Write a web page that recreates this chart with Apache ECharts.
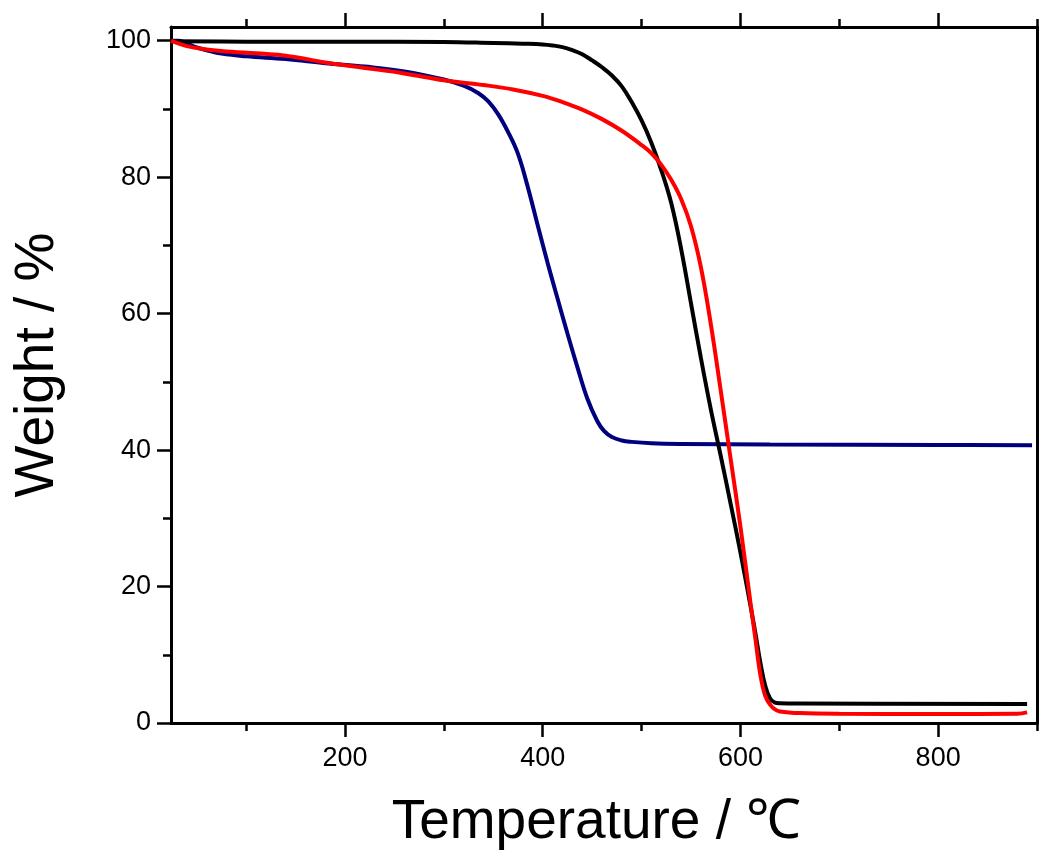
<!DOCTYPE html>
<html>
<head>
<meta charset="utf-8">
<script src="https://cdn.jsdelivr.net/npm/echarts@6/dist/echarts.min.js"></script>
<style>
html,body{margin:0;padding:0;background:#fff;}
#chart{width:1050px;height:852px;}
</style>
</head>
<body>
<div id="chart"></div>
<script>
// ---- data ----
const blackSeries = [
  [24, 99.9], [100, 99.85], [200, 99.85], [300, 99.8], [350, 99.65], [380, 99.55], [400, 99.45],
  [410, 99.3], [420, 99.05], [430, 98.6], [440, 98.0], [450, 97.1], [460, 96.1], [470, 94.9],
  [480, 93.3], [490, 91.0], [500, 88.3], [510, 85.0], [520, 81.0], [530, 76.2], [540, 69.5],
  [550, 61.5], [560, 53.5], [570, 46.0], [580, 39.2], [590, 32.2], [600, 25.0], [610, 17.3],
  [615, 13.3], [620, 9.0], [625, 5.5], [630, 3.6], [635, 3.0], [640, 2.9], [660, 2.85],
  [890, 2.8]
];
const redSeries = [
  [24, 100], [40, 99.2], [60, 98.7], [80, 98.4], [140, 97.8], [180, 96.8], [220, 96.0],
  [260, 95.2], [300, 94.2], [340, 93.5], [370, 92.85], [400, 91.9], [420, 91.0], [440, 89.9],
  [460, 88.5], [480, 86.8], [500, 84.7], [510, 83.5], [520, 81.8], [530, 79.6], [540, 76.8],
  [550, 72.8], [560, 66.8], [570, 58.5], [580, 48.8], [590, 38.8], [600, 28.8], [610, 17.8],
  [615, 12.5], [620, 7.2], [625, 4.0], [630, 2.7], [635, 2.0], [640, 1.7], [660, 1.45],
  [700, 1.35], [800, 1.33], [880, 1.35], [890, 1.55]
];
const blueSeries = [
  [24, 100], [32, 100], [40, 99.6], [50, 99.0], [60, 98.6], [75, 98.1], [100, 97.7],
  [140, 97.3], [180, 96.7], [220, 96.2], [260, 95.5], [300, 94.3], [320, 93.4], [335, 92.3],
  [345, 91.1], [355, 89.2], [365, 86.6], [375, 83.4], [385, 78.5], [395, 72.9], [405, 67.4],
  [415, 62.2], [425, 57.1], [435, 52.2], [445, 47.6], [455, 44.3], [462, 42.8], [470, 41.9],
  [480, 41.4], [490, 41.2], [510, 41.0], [540, 40.9], [630, 40.8], [800, 40.75], [895, 40.7]
];
const xMajorTicks = [200, 400, 600, 800];
const xMinorTicks = [100, 300, 500, 700, 900];
const yMajorTicks = [0, 20, 40, 60, 80, 100];
const yMinorTicks = [10, 30, 50, 70, 90];
const xName = 'Temperature / \u2103';
const yName = 'Weight / %';

const FONT = '"Liberation Sans", Arial, Helvetica, sans-serif';
const X_MIN = 24, X_MAX = 900, Y_MIN = 0, Y_MAX = 102;

function xAx(opts) {
  return Object.assign({
    type: 'value', min: X_MIN, max: X_MAX,
    splitLine: { show: false },
    axisLine: { show: false, onZero: false },
    axisTick: { show: false },
    axisLabel: { show: false }
  }, opts);
}
function yAx(opts) {
  return Object.assign({
    type: 'value', min: Y_MIN, max: Y_MAX,
    splitLine: { show: false },
    axisLine: { show: false, onZero: false },
    axisTick: { show: false },
    axisLabel: { show: false }
  }, opts);
}

const chart = echarts.init(document.getElementById('chart'));
chart.setOption({
  animation: false,
  backgroundColor: '#fff',
  grid: { left: 171, right: 13, top: 27, bottom: 129, containLabel: false, outerBoundsMode: 'none' },
  xAxis: [
    xAx({
      position: 'bottom',
      name: xName, nameLocation: 'middle', nameGap: 72,
      nameTextStyle: { fontFamily: FONT, fontSize: 55, color: '#000', padding: [0, 15, 0, 0] },
      axisLine: { show: true, onZero: false, lineStyle: { color: '#000', width: 3 } },
      axisTick: { show: true, customValues: xMajorTicks, length: 14, lineStyle: { color: '#000', width: 2.5 } },
      axisLabel: { show: true, customValues: xMajorTicks, margin: 22, fontFamily: FONT, fontSize: 27, color: '#000' }
    }),
    xAx({
      position: 'bottom',
      axisTick: { show: true, customValues: xMinorTicks, length: 8, lineStyle: { color: '#000', width: 2.5 } }
    }),
    xAx({
      position: 'top',
      axisLine: { show: true, onZero: false, lineStyle: { color: '#000', width: 3 } },
      axisTick: { show: true, customValues: xMajorTicks, length: 14, lineStyle: { color: '#000', width: 2.5 } }
    }),
    xAx({
      position: 'top',
      axisTick: { show: true, customValues: xMinorTicks, length: 8, lineStyle: { color: '#000', width: 2.5 } }
    })
  ],
  yAxis: [
    yAx({
      position: 'left',
      name: yName, nameLocation: 'middle', nameGap: 106, nameRotate: 90,
      nameTextStyle: { fontFamily: FONT, fontSize: 55, color: '#000', padding: [0, 0, 0, 20] },
      axisLine: { show: true, onZero: false, lineStyle: { color: '#000', width: 3 } },
      axisTick: { show: true, customValues: yMajorTicks, length: 14, lineStyle: { color: '#000', width: 2.5 } },
      axisLabel: { show: true, customValues: yMajorTicks, margin: 20, fontFamily: FONT, fontSize: 27, color: '#000' }
    }),
    yAx({
      position: 'left',
      axisTick: { show: true, customValues: yMinorTicks, length: 8, lineStyle: { color: '#000', width: 2.5 } }
    }),
    yAx({
      position: 'right',
      axisLine: { show: true, onZero: false, lineStyle: { color: '#000', width: 3 } }
    })
  ],
  series: [
    { type: 'line', name: 'blue', data: blueSeries, xAxisIndex: 0, yAxisIndex: 0, showSymbol: false,
      smooth: 0.4, lineStyle: { color: '#00007f', width: 4 }, z: 2 },
    { type: 'line', name: 'black', data: blackSeries, xAxisIndex: 0, yAxisIndex: 0, showSymbol: false,
      smooth: 0.4, lineStyle: { color: '#000000', width: 4 }, z: 3 },
    { type: 'line', name: 'red', data: redSeries, xAxisIndex: 0, yAxisIndex: 0, showSymbol: false,
      smooth: 0.4, lineStyle: { color: '#ff0000', width: 4 }, z: 4 }
  ]
});
</script>
</body>
</html>
